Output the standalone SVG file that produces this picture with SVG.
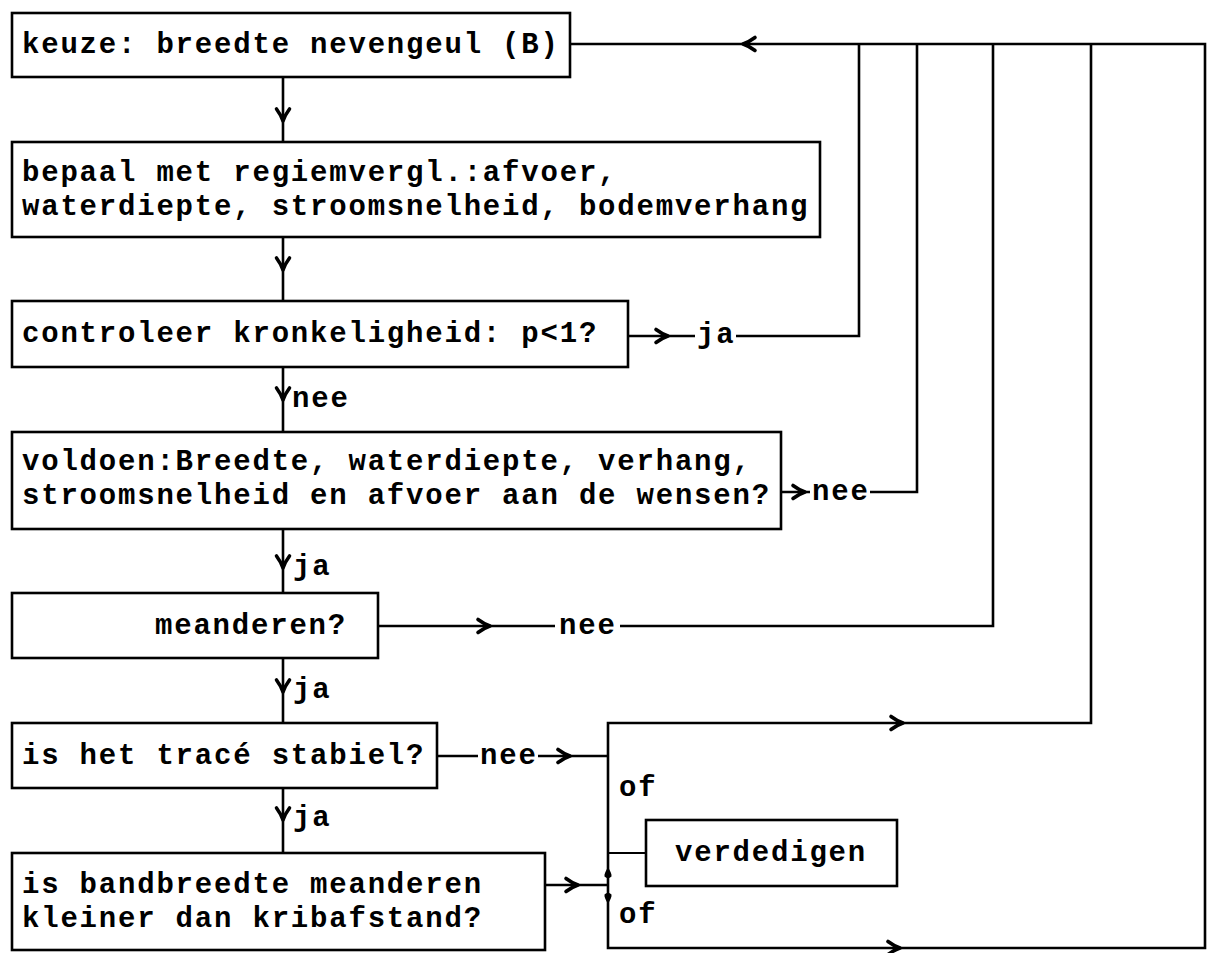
<svg xmlns="http://www.w3.org/2000/svg" width="1207" height="953" viewBox="0 0 1207 953">
<style>
.box{fill:#fff;stroke:#000;stroke-width:2.6}
.ln{fill:none;stroke:#000;stroke-width:2.6}
.ah{fill:none;stroke:#000;stroke-width:3.6;stroke-linecap:round;stroke-linejoin:round}
text{font-family:"Liberation Mono","Courier New",monospace;font-size:29px;font-weight:bold;letter-spacing:1.8px;fill:#000}
</style>
<defs>
<path id="ah" class="ah" d="M-6.5,-12 Q-2,-6 0,0 Q2,-6 6.5,-12"/>
<path id="drop" d="M0,0 C-2,4 -4,7 -3.5,9.5 Q0,13 3.5,9.5 C4,7 2,4 0,0Z" fill="#000"/>
</defs>
<rect width="1207" height="953" fill="#fff"/>
<g id="connectors">
<path class="ln" d="M570,44 H1205 V948 H608 V723 H1091 V44"/>
<path class="ln" d="M859,44 V336 H736 M695,336 H628"/>
<path class="ln" d="M917,44 V492 H870 M810,492 H781"/>
<path class="ln" d="M993,44 V626 H620 M555,626 H378"/>
<path class="ln" d="M437,756 H478 M538,756 H608"/>
<path class="ln" d="M545,885 H608"/>
<path class="ln" d="M608,853 H646" style="stroke-width:2"/>
<path class="ln" d="M283,77 V142 M283,237 V301 M283,367 V432 M283,529 V593 M283,658 V723 M283,788 V853"/>
<use href="#ah" transform="translate(743,44) rotate(90)"/>
<use href="#ah" transform="translate(283,121)"/>
<use href="#ah" transform="translate(283,270)"/>
<use href="#ah" transform="translate(283,400)"/>
<use href="#ah" transform="translate(283,568)"/>
<use href="#ah" transform="translate(283,692)"/>
<use href="#ah" transform="translate(283,820)"/>
<use href="#ah" transform="translate(668,336) rotate(-90)"/>
<use href="#ah" transform="translate(805,492) rotate(-90)"/>
<use href="#ah" transform="translate(490,626) rotate(-90)"/>
<use href="#ah" transform="translate(570,756) rotate(-90)"/>
<use href="#ah" transform="translate(578,885) rotate(-90)"/>
<use href="#ah" transform="translate(903,723) rotate(-90)"/>
<use href="#ah" transform="translate(900,948) rotate(-90)"/>
<use href="#drop" transform="translate(608,867)"/>
<use href="#drop" transform="translate(608,904) rotate(180)"/>
<text x="292" y="407">nee</text>
<text x="293" y="575">ja</text>
<text x="293" y="698">ja</text>
<text x="293" y="826">ja</text>
<text x="697" y="343">ja</text>
<text x="812" y="500">nee</text>
<text x="559" y="634">nee</text>
<text x="480" y="764">nee</text>
<text x="619" y="796">of</text>
<text x="619" y="923">of</text>
</g>
<g id="n1"><rect class="box" x="12" y="13" width="558" height="64"/><text x="22" y="53">keuze: breedte nevengeul (B)</text></g>
<g id="n2"><rect class="box" x="12" y="142" width="808" height="95"/><text x="22" y="181">bepaal met regiemvergl.:afvoer,</text><text x="22" y="215">waterdiepte, stroomsnelheid, bodemverhang</text></g>
<g id="n3"><rect class="box" x="12" y="301" width="616" height="66"/><text x="22" y="342">controleer kronkeligheid: p&lt;1?</text></g>
<g id="n4"><rect class="box" x="12" y="432" width="769" height="97"/><text x="22" y="470">voldoen:Breedte, waterdiepte, verhang,</text><text x="22" y="504">stroomsnelheid en afvoer aan de wensen?</text></g>
<g id="n5"><rect class="box" x="12" y="593" width="366" height="65"/><text x="155" y="634">meanderen?</text></g>
<g id="n6"><rect class="box" x="12" y="723" width="425" height="65"/><text x="22" y="764">is het tracé stabiel?</text></g>
<g id="n7"><rect class="box" x="12" y="853" width="533" height="97"/><text x="22" y="893">is bandbreedte meanderen</text><text x="22" y="927">kleiner dan kribafstand?</text></g>
<g id="n8"><rect class="box" x="646" y="820" width="251" height="66"/><text x="675" y="861">verdedigen</text></g>
</svg>
